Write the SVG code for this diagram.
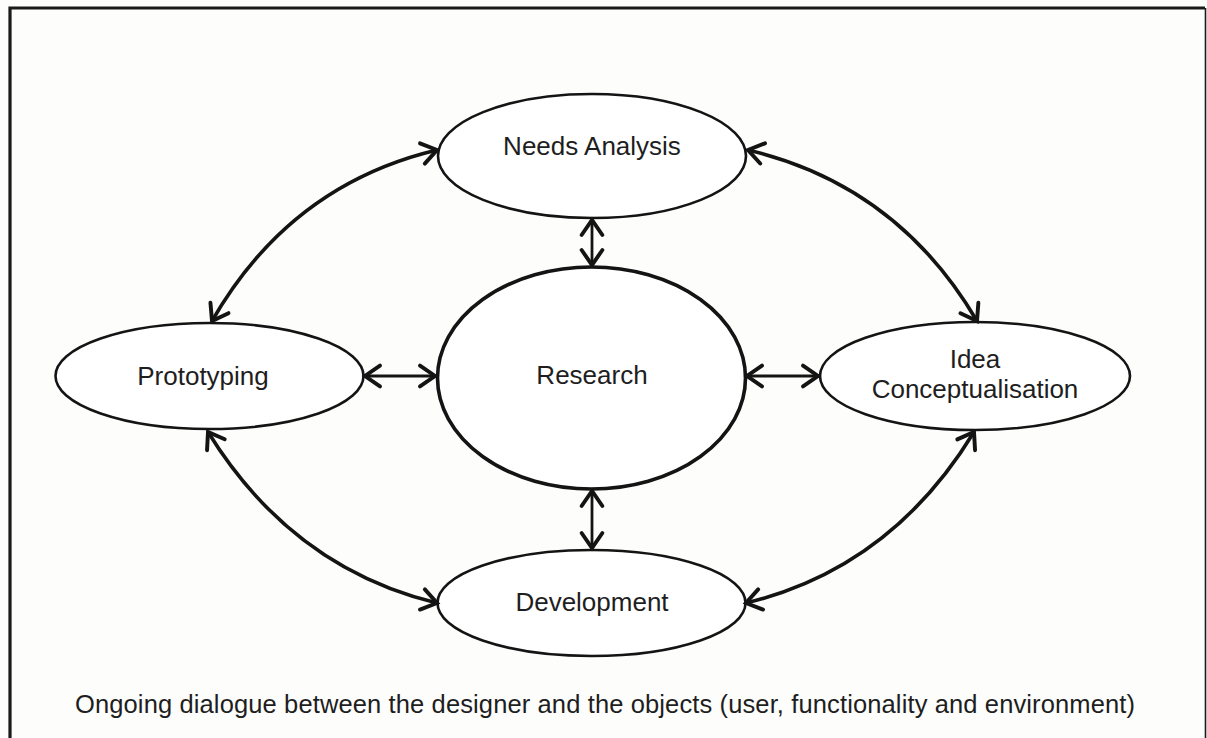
<svg xmlns="http://www.w3.org/2000/svg" width="1207" height="738" viewBox="0 0 1207 738">
<style>
.node ellipse{fill:#fff;stroke:#141414;stroke-width:2.6}
.node text{font-family:"Liberation Sans",Arial,sans-serif;font-size:26px;fill:#1e1e1e;text-anchor:middle}
.conn path{fill:none;stroke:#141414;stroke-width:3.6}
.conn .straight{stroke-width:2.8}
.foot{font-family:"Liberation Sans",Arial,sans-serif;font-size:25.5px;fill:#1e1e1e;text-anchor:middle}
</style>
<defs>
<marker id="ah" markerUnits="userSpaceOnUse" markerWidth="30" markerHeight="30" viewBox="-18 -13 22 26" refX="0" refY="0" orient="auto-start-reverse">
<path d="M-13,-9 L0,0 L-13,9" fill="none" stroke="#141414" stroke-width="3.4" stroke-linecap="round" stroke-linejoin="miter"/>
</marker>
</defs>
<rect width="1207" height="738" fill="#fdfdfc"/>
<g id="frame">
<path d="M10,738 L10,8 L1205,8" fill="none" stroke="#1a1a1a" stroke-width="3.2"/>
<path d="M1205.5,8 L1205.5,738" fill="none" stroke="#1a1a1a" stroke-width="1.6"/>
</g>
<g id="needs" class="node">
<ellipse cx="592" cy="156" rx="154" ry="62"/>
<text x="592" y="155">Needs Analysis</text>
</g>
<g id="research" class="node">
<ellipse cx="591.5" cy="378" rx="154" ry="111" style="stroke-width:3.6"/>
<text x="592" y="384">Research</text>
</g>
<g id="prototyping" class="node">
<ellipse cx="209.5" cy="376" rx="154" ry="53"/>
<text x="203" y="385">Prototyping</text>
</g>
<g id="idea" class="node">
<ellipse cx="975" cy="376" rx="155" ry="54"/>
<text x="975" y="368">Idea</text>
<text x="975" y="398">Conceptualisation</text>
</g>
<g id="development" class="node">
<ellipse cx="591.5" cy="603" rx="154" ry="53"/>
<text x="592" y="611">Development</text>
</g>
<g id="connectors" class="conn">
<path class="straight" d="M592,220 L592,265" marker-start="url(#ah)" marker-end="url(#ah)"/>
<path class="straight" d="M592,491 L592,548" marker-start="url(#ah)" marker-end="url(#ah)"/>
<path class="straight" d="M365,376 L435,376" marker-start="url(#ah)" marker-end="url(#ah)"/>
<path class="straight" d="M747,376 L818,376" marker-start="url(#ah)" marker-end="url(#ah)"/>
<path d="M212,321 Q290,185 437,150" marker-start="url(#ah)" marker-end="url(#ah)"/>
<path d="M977,321 Q897,185 748,150" marker-start="url(#ah)" marker-end="url(#ah)"/>
<path d="M208,432 Q292,568 437,603" marker-start="url(#ah)" marker-end="url(#ah)"/>
<path d="M974,432 Q891,568 746,603" marker-start="url(#ah)" marker-end="url(#ah)"/>
</g>
<text class="foot" x="605" y="713" textLength="1060" lengthAdjust="spacing">Ongoing dialogue between the designer and the objects (user, functionality and environment)</text>
</svg>
